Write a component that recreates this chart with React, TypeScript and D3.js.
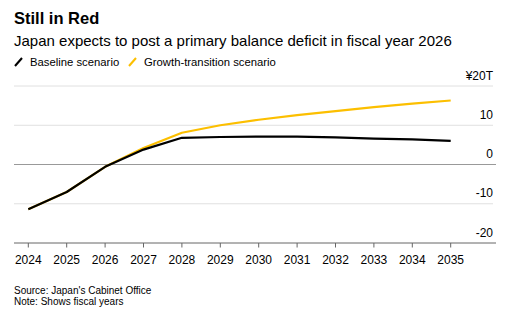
import React from "react";
import * as d3 from "d3";

const years = [2024, 2025, 2026, 2027, 2028, 2029, 2030, 2031, 2032, 2033, 2034, 2035];
const baseline = [-11.4, -7.0, -0.6, 3.8, 6.8, 7.0, 7.1, 7.1, 6.9, 6.6, 6.4, 6.0];
const growth = [-11.4, -7.0, -0.6, 4.2, 8.1, 10.0, 11.4, 12.6, 13.6, 14.6, 15.5, 16.3];
const yTicks = [20, 10, 0, -10, -20];
const yTickLabels = ["¥20T", "10", "0", "-10", "-20"];

const W = 526;
const H = 316;
const FONT = "'Liberation Sans', Arial, Helvetica, sans-serif";
const YELLOW = "#fcbf00";

export default function App() {
  const x = d3.scaleLinear().domain([2024, 2035]).range([28.3, 450.7]);
  const y = d3.scaleLinear().domain([-20, 20]).range([243, 86]);
  const line = d3
    .line<number>()
    .x((_, i) => x(years[i]))
    .y((d) => y(d));

  const gridLeft = 14;
  const gridRight = 493;

  return (
    <svg
      width={W}
      height={H}
      style={{ position: "absolute", left: 0, top: 0, display: "block" }}
      fontFamily={FONT}
    >
      <rect width={W} height={H} fill="#fff" />
      <text x={14} y={24} fontSize={16.5} fontWeight="bold" fill="#000">
        Still in Red
      </text>
      <text x={14} y={46} fontSize={15} fill="#000">
        Japan expects to post a primary balance deficit in fiscal year 2026
      </text>
      {/* legend */}
      <line x1={15} y1={66} x2={22} y2={58} stroke="#000" strokeWidth={2} />
      <text x={30} y={65.5} fontSize={11.3} fill="#000">
        Baseline scenario
      </text>
      <line x1={129} y1={66} x2={136} y2={58} stroke={YELLOW} strokeWidth={2} />
      <text x={144} y={65.5} fontSize={11.3} fill="#000">
        Growth-transition scenario
      </text>

      {/* gridlines */}
      {yTicks.map((t, i) => {
        const yy = y(t);
        let stroke = "#e0e0e0";
        if (t === 0) stroke = "#999";
        if (t === -20) stroke = "#666";
        return (
          <g key={t}>
            <line
              x1={gridLeft}
              x2={t === 0 || t === -20 ? 496 : gridRight}
              y1={yy}
              y2={yy}
              stroke={stroke}
              strokeWidth={1}
            />
            <text
              x={gridRight}
              y={yy - 6.5}
              fontSize={12}
              textAnchor="end"
              fill="#000"
            >
              {yTickLabels[i]}
            </text>
          </g>
        );
      })}

      {/* x ticks */}
      {years.map((yr) => (
        <g key={yr}>
          <line x1={x(yr)} x2={x(yr)} y1={y(-20)} y2={y(-20) + 4.5} stroke="#666" strokeWidth={1} />
          <text x={x(yr)} y={263.5} fontSize={12} textAnchor="middle" fill="#000">
            {yr}
          </text>
        </g>
      ))}

      {/* lines */}
      <path d={line(growth) || ""} fill="none" stroke={YELLOW} strokeWidth={2.2} strokeLinejoin="round" />
      <path d={line(baseline) || ""} fill="none" stroke="#000" strokeWidth={2.2} strokeLinejoin="round" />

      <text x={14} y={293.5} fontSize={10} fill="#000">
        Source: Japan's Cabinet Office
      </text>
      <text x={14} y={304.5} fontSize={10} fill="#000">
        Note: Shows fiscal years
      </text>
    </svg>
  );
}
